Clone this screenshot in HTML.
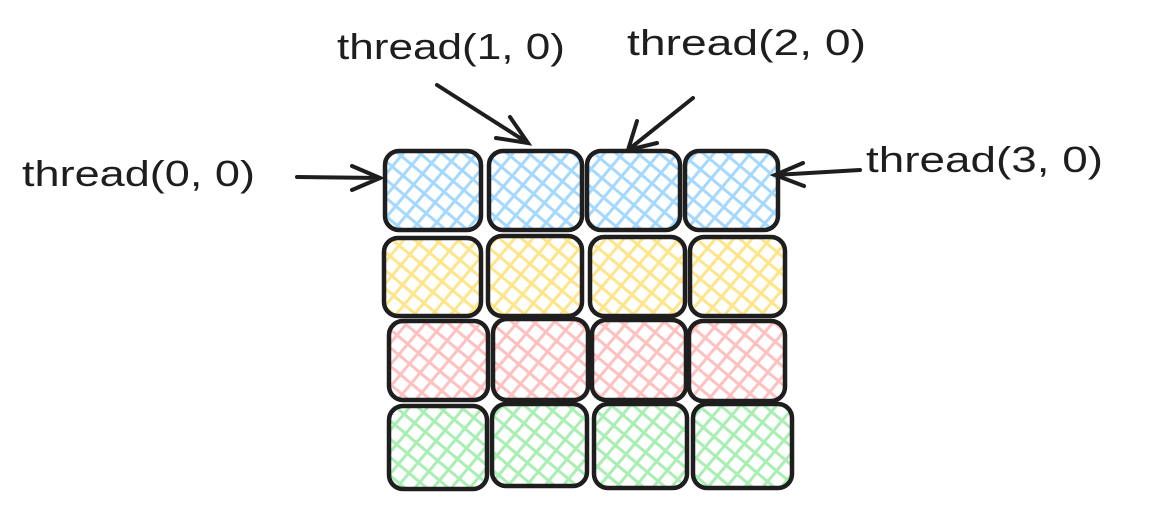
<!DOCTYPE html>
<html><head><style>
html,body{margin:0;padding:0;background:#fff;}
svg{display:block}
text{font-family:"Liberation Sans",sans-serif;font-size:36px;fill:#1e1e1e;}
</style></head><body>
<svg width="1157" height="508" viewBox="0 0 1157 508" xmlns="http://www.w3.org/2000/svg">
<defs>
<pattern id="pb" width="14" height="14" patternUnits="userSpaceOnUse" patternTransform="rotate(40)">
<rect width="14" height="14" fill="#fff"/><line x1="1" y1="0" x2="1" y2="14" stroke="#a5d8ff" stroke-width="4"/><line x1="0" y1="1" x2="14" y2="1" stroke="#a5d8ff" stroke-width="4"/></pattern>
<pattern id="py" width="14" height="14" patternUnits="userSpaceOnUse" patternTransform="rotate(40)">
<rect width="14" height="14" fill="#fff"/><line x1="1" y1="0" x2="1" y2="14" stroke="#ffe58a" stroke-width="4"/><line x1="0" y1="1" x2="14" y2="1" stroke="#ffe58a" stroke-width="4"/></pattern>
<pattern id="pr" width="14" height="14" patternUnits="userSpaceOnUse" patternTransform="rotate(40)">
<rect width="14" height="14" fill="#fff"/><line x1="1" y1="0" x2="1" y2="14" stroke="#ffc0c0" stroke-width="4"/><line x1="0" y1="1" x2="14" y2="1" stroke="#ffc0c0" stroke-width="4"/></pattern>
<pattern id="pg" width="14" height="14" patternUnits="userSpaceOnUse" patternTransform="rotate(40)">
<rect width="14" height="14" fill="#fff"/><line x1="1" y1="0" x2="1" y2="14" stroke="#a9eeb3" stroke-width="4"/><line x1="0" y1="1" x2="14" y2="1" stroke="#a9eeb3" stroke-width="4"/></pattern>
</defs>
<g stroke="#1e1e1e" stroke-width="4.5">
<rect x="385" y="151" width="96" height="79" rx="14" fill="url(#pb)"/>
<rect x="489" y="151" width="93" height="79" rx="14" fill="url(#pb)"/>
<rect x="587" y="151" width="93" height="79" rx="14" fill="url(#pb)"/>
<rect x="685" y="151" width="93" height="79" rx="14" fill="url(#pb)"/>
<rect x="384" y="238" width="97" height="78" rx="14" fill="url(#py)"/>
<rect x="488" y="236" width="94" height="80" rx="14" fill="url(#py)"/>
<rect x="590" y="237" width="95" height="79" rx="14" fill="url(#py)"/>
<rect x="690" y="237" width="95" height="79" rx="14" fill="url(#py)"/>
<rect x="389" y="321" width="99" height="79" rx="14" fill="url(#pr)"/>
<rect x="493" y="319" width="95" height="81" rx="14" fill="url(#pr)"/>
<rect x="592" y="320" width="94" height="80" rx="14" fill="url(#pr)"/>
<rect x="689" y="321" width="96" height="80" rx="14" fill="url(#pr)"/>
<rect x="389" y="406" width="98" height="83" rx="14" fill="url(#pg)"/>
<rect x="492" y="404" width="95" height="82" rx="14" fill="url(#pg)"/>
<rect x="594" y="404" width="93" height="84" rx="14" fill="url(#pg)"/>
<rect x="693" y="404" width="99" height="84" rx="14" fill="url(#pg)"/>
</g>
<g stroke="#1e1e1e" stroke-width="4" fill="none" stroke-linecap="round">
<path d="M297 177 L380 178 M352 166 L380 178 L352 190"/>
<path d="M437 85 L528 143 M496 138 L528 143 L510 117"/>
<path d="M693 98 L628 150 M637 121 L628 150 L657 143"/>
<path d="M860 170 L775 175 M803 163 L775 175 L804 186"/>
</g>
<text x="22" y="186" textLength="233" lengthAdjust="spacingAndGlyphs">thread(0, 0)</text>
<text x="337" y="59" textLength="228" lengthAdjust="spacingAndGlyphs">thread(1, 0)</text>
<text x="627" y="55" textLength="239" lengthAdjust="spacingAndGlyphs">thread(2, 0)</text>
<text x="866" y="172" textLength="237" lengthAdjust="spacingAndGlyphs">thread(3, 0)</text>
</svg>
</body></html>
